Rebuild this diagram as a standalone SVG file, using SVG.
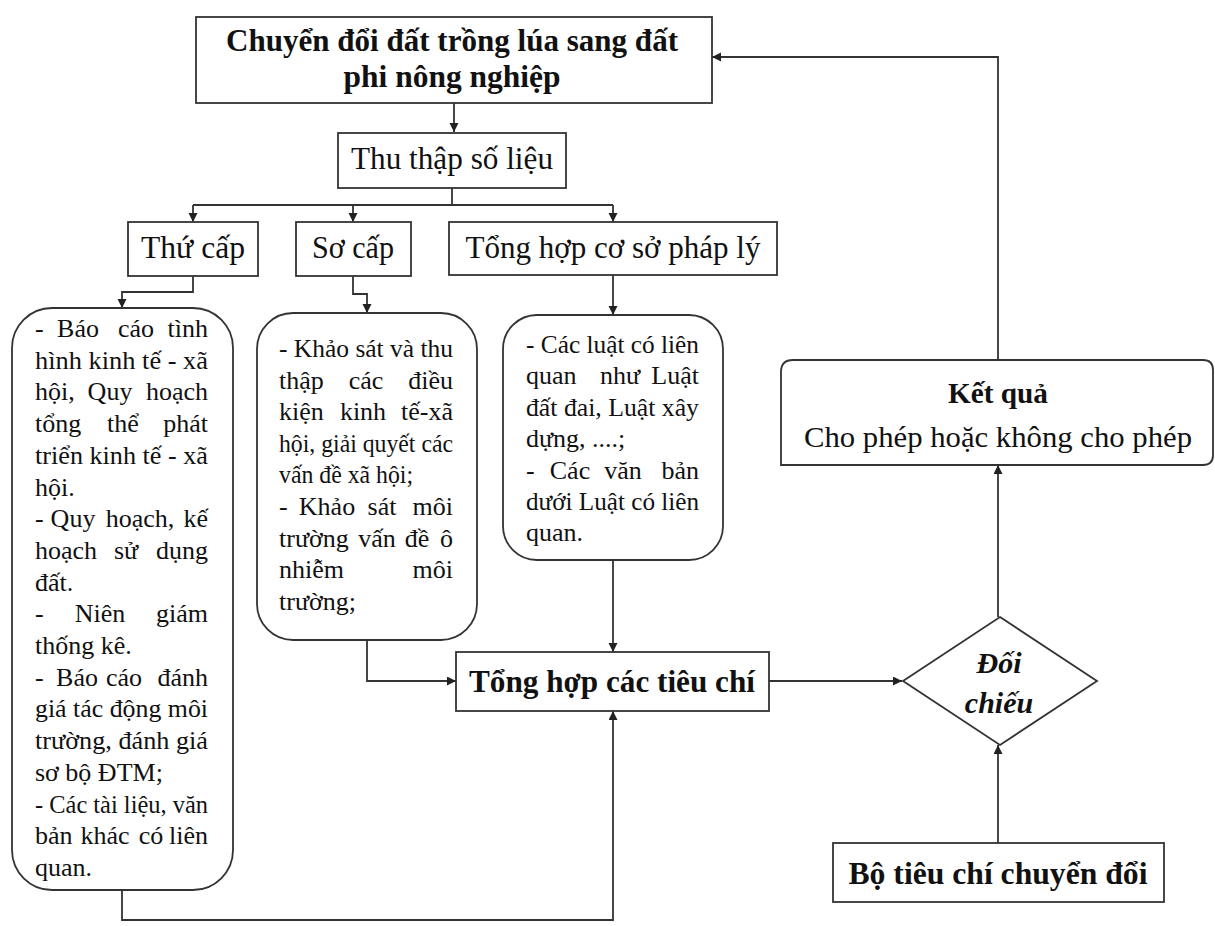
<svg xmlns="http://www.w3.org/2000/svg" width="1215" height="926" viewBox="0 0 1215 926">
<style>
text{font-family:"Liberation Serif","Times New Roman",serif;fill:#111}
.box{fill:#fff;stroke:#333;stroke-width:1.8}
.h{font-size:31px}
.b{font-weight:bold}
.p{font-size:26px}
.m{text-anchor:middle}
.e{text-anchor:end}
.c{fill:none;stroke:#333;stroke-width:1.8}
</style>
<defs>
<marker id="ar" markerUnits="userSpaceOnUse" markerWidth="10" markerHeight="10" refX="9" refY="4.5" orient="auto">
<path d="M0,0 L9,4.5 L0,9 z" fill="#222"/>
</marker>
</defs>
<rect width="1215" height="926" fill="#fff"/>

<g id="connectors">
<path class="c" d="M454,103 V132" marker-end="url(#ar)"/>
<path class="c" d="M452,188 V205 M193,205 H613"/>
<path class="c" d="M193,205 V222" marker-end="url(#ar)"/>
<path class="c" d="M353,205 V222" marker-end="url(#ar)"/>
<path class="c" d="M613,205 V222" marker-end="url(#ar)"/>
<path class="c" d="M193,276 V292 H122 V308" marker-end="url(#ar)"/>
<path class="c" d="M353,276 V294 H367 V313" marker-end="url(#ar)"/>
<path class="c" d="M613,275 V315" marker-end="url(#ar)"/>
<path class="c" d="M367,640 V681 H456" marker-end="url(#ar)"/>
<path class="c" d="M613,560 V652" marker-end="url(#ar)"/>
<path class="c" d="M122,890 V920 H613 V711" marker-end="url(#ar)"/>
<path class="c" d="M769,681 H902" marker-end="url(#ar)"/>
<path class="c" d="M998,843 V745" marker-end="url(#ar)"/>
<path class="c" d="M998,617 V465" marker-end="url(#ar)"/>
<path class="c" d="M998,360 V57 H712" marker-end="url(#ar)"/>
</g>

<g id="n-top">
<rect class="box" x="196" y="17" width="516" height="86"/>
<text class="h b m" x="452" y="51" textLength="452" lengthAdjust="spacingAndGlyphs">Chuyển đổi đất trồng lúa sang đất</text>
<text class="h b m" x="452" y="87" textLength="217" lengthAdjust="spacingAndGlyphs">phi nông nghiệp</text>
</g>

<g id="n-thuthap">
<rect class="box" x="338" y="133" width="228" height="55"/>
<text class="h m" x="452" y="169" textLength="202" lengthAdjust="spacingAndGlyphs">Thu thập số liệu</text>
</g>

<g id="n-thucap">
<rect class="box" x="128" y="222" width="130" height="54"/>
<text class="h m" x="193" y="258" textLength="104" lengthAdjust="spacingAndGlyphs">Thứ cấp</text>
</g>

<g id="n-socap">
<rect class="box" x="296" y="222" width="115" height="54"/>
<text class="h m" x="353" y="258" textLength="82" lengthAdjust="spacingAndGlyphs">Sơ cấp</text>
</g>

<g id="n-phaply">
<rect class="box" x="449" y="222" width="328" height="53"/>
<text class="h m" x="613" y="258" textLength="295" lengthAdjust="spacingAndGlyphs">Tổng hợp cơ sở pháp lý</text>
</g>

<g id="n-thucap-detail">
<rect class="box" x="12" y="308" width="221" height="582" rx="40"/>
<g class="p">
<text x="35" y="337">-</text><text class="m" x="78" y="337">Báo</text><text class="m" x="136" y="337">cáo</text><text class="e" x="208" y="337">tình</text>
<text x="35" y="369" textLength="173" lengthAdjust="spacingAndGlyphs">hình kinh tế - xã</text>
<text x="35" y="400">hội,</text><text class="m" x="110" y="400">Quy</text><text class="e" x="208" y="400">hoạch</text>
<text x="35" y="432">tổng</text><text class="m" x="123" y="432">thể</text><text class="e" x="208" y="432">phát</text>
<text x="35" y="464" textLength="173" lengthAdjust="spacingAndGlyphs">triển kinh tế - xã</text>
<text x="35" y="496">hội.</text>
<text x="35" y="527">-</text><text class="m" x="73" y="527">Quy</text><text class="m" x="140" y="527">hoạch,</text><text class="e" x="208" y="527">kế</text>
<text x="35" y="559">hoạch</text><text class="m" x="126" y="559">sử</text><text class="e" x="208" y="559">dụng</text>
<text x="35" y="591">đất.</text>
<text x="35" y="622">-</text><text class="m" x="100" y="622">Niên</text><text class="e" x="208" y="622">giám</text>
<text x="35" y="654">thống kê.</text>
<text x="35" y="686">-</text><text class="m" x="77" y="686">Báo</text><text class="m" x="124" y="686">cáo</text><text class="e" x="208" y="686">đánh</text>
<text x="35" y="717" textLength="173" lengthAdjust="spacingAndGlyphs">giá tác động môi</text>
<text x="35" y="749" textLength="173" lengthAdjust="spacingAndGlyphs">trường, đánh giá</text>
<text x="35" y="781">sơ bộ ĐTM;</text>
<text x="35" y="813" textLength="173" lengthAdjust="spacingAndGlyphs">- Các tài liệu, văn</text>
<text x="35" y="844">bản</text><text class="m" x="105" y="844">khác</text><text class="m" x="151" y="844">có</text><text class="e" x="208" y="844">liên</text>
<text x="35" y="876">quan.</text>
</g>
</g>

<g id="n-socap-detail">
<rect class="box" x="257" y="313" width="220" height="327" rx="36"/>
<g class="p">
<text x="279" y="357" textLength="174" lengthAdjust="spacingAndGlyphs">- Khảo sát và thu</text>
<text x="279" y="389">thập</text><text class="m" x="366" y="389">các</text><text class="e" x="453" y="389">điều</text>
<text x="279" y="420">kiện</text><text class="m" x="363" y="420">kinh</text><text class="e" x="453" y="420">tế-xã</text>
<text x="279" y="452" textLength="174" lengthAdjust="spacingAndGlyphs">hội, giải quyết các</text>
<text x="279" y="483" textLength="134" lengthAdjust="spacingAndGlyphs">vấn đề xã hội;</text>
<text x="279" y="515">-</text><text class="m" x="327" y="515">Khảo</text><text class="m" x="382" y="515">sát</text><text class="e" x="453" y="515">môi</text>
<text x="279" y="547">trường</text><text class="m" x="377" y="547">vấn</text><text class="m" x="417" y="547">đề</text><text class="e" x="453" y="547">ô</text>
<text x="279" y="578">nhiễm</text><text class="e" x="453" y="578">môi</text>
<text x="279" y="610">trường;</text>
</g>
</g>

<g id="n-phaply-detail">
<rect class="box" x="503" y="315" width="220" height="245" rx="34"/>
<g class="p">
<text x="526" y="353" textLength="173" lengthAdjust="spacingAndGlyphs">- Các luật có liên</text>
<text x="526" y="384">quan</text><text class="m" x="620" y="384">như</text><text class="e" x="699" y="384">Luật</text>
<text x="526" y="416" textLength="173" lengthAdjust="spacingAndGlyphs">đất đai, Luật xây</text>
<text x="526" y="447">dựng, ....;</text>
<text x="526" y="479">-</text><text class="m" x="570" y="479">Các</text><text class="m" x="623" y="479">văn</text><text class="e" x="699" y="479">bản</text>
<text x="526" y="510" textLength="173" lengthAdjust="spacingAndGlyphs">dưới Luật có liên</text>
<text x="526" y="541">quan.</text>
</g>
</g>

<g id="n-tonghop">
<rect class="box" x="456" y="652" width="313" height="59"/>
<text class="h b m" x="612" y="692" textLength="286" lengthAdjust="spacingAndGlyphs">Tổng hợp các tiêu chí</text>
</g>

<g id="n-doichieu">
<polygon class="box" points="1000,617 1097,681 1000,745 903,681"/>
<text class="b m" x="999" y="673" font-size="30" font-style="italic">Đối</text>
<text class="b m" x="999" y="713" font-size="30" font-style="italic">chiếu</text>
</g>

<g id="n-ketqua">
<path class="box" d="M781,465 V372 Q781,360 793,360 H1203 Q1213,360 1213,370 V455 Q1213,465 1203,465 Z"/>
<text class="b m" x="998" y="403" font-size="29" textLength="100" lengthAdjust="spacingAndGlyphs">Kết quả</text>
<text class="m" x="998" y="447" font-size="29" textLength="388" lengthAdjust="spacingAndGlyphs">Cho phép hoặc không cho phép</text>
</g>

<g id="n-botieuchi">
<rect class="box" x="833" y="843" width="331" height="59"/>
<text class="h b m" x="998" y="884" textLength="299" lengthAdjust="spacingAndGlyphs">Bộ tiêu chí chuyển đổi</text>
</g>
</svg>
